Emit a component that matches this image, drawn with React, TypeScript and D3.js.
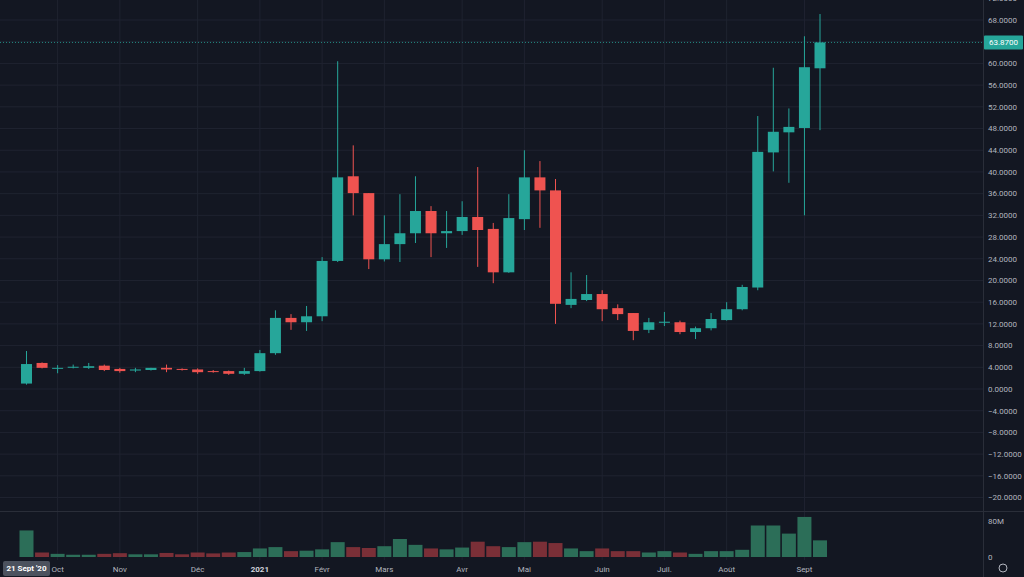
import React from "react";
import * as d3 from "d3";

const opens = [1.0,4.8,3.8,4.0,3.9,4.3,3.7,3.4,3.5,3.9,3.7,3.6,3.3,3.3,2.8,3.3,6.6,13.1,12.3,13.4,23.6,39.2,36.1,23.9,26.7,28.7,32.8,28.7,29.1,31.7,29.5,21.5,31.3,39.0,36.6,15.5,16.4,17.5,14.9,14.0,10.9,12.2,12.3,10.5,11.2,12.7,14.7,18.7,43.6,47.3,48.1,59.1];
const highs = [7.0,4.9,4.4,4.5,4.8,4.5,3.9,3.9,3.9,4.5,3.8,3.8,3.5,3.4,3.9,7.2,14.5,13.8,15.3,24.3,60.4,44.9,36.1,32.0,35.9,39.2,33.7,32.8,34.6,40.9,30.6,35.9,44.0,42.0,38.7,21.5,21.0,18.2,15.6,14.0,13.1,14.2,12.6,11.5,14.0,16.0,19.2,50.3,59.2,51.7,65.0,69.1];
const lows = [0.8,3.8,2.9,3.8,3.7,3.3,3.0,3.1,3.4,3.1,3.4,2.8,3.0,2.6,2.6,3.2,6.3,10.9,10.7,12.5,23.4,32.0,22.1,23.5,23.4,26.9,24.3,26.0,28.4,22.5,19.5,21.4,29.3,29.7,12.0,14.9,16.2,12.5,12.7,9.0,10.3,11.6,10.1,9.2,10.8,12.6,14.5,18.2,40.1,38.0,32.0,47.7];
const closes = [4.6,3.9,3.9,4.1,4.2,3.5,3.3,3.6,3.9,3.6,3.6,3.1,3.2,2.8,3.3,6.6,13.1,12.3,13.4,23.6,39.0,36.1,23.9,26.7,28.7,32.8,28.7,29.1,31.7,29.3,21.5,31.5,39.0,36.6,15.7,16.6,17.5,14.7,13.8,10.7,12.3,12.4,10.5,11.2,12.9,14.7,18.8,43.7,47.4,48.3,59.3,63.87];
const volumesM = [59,10,7,5,5,7,8.5,6,6,9,6,10,8,10,11,19,22,13,14,17,33,22,20,24,40,27,19,17,21,34,24,22,33,34,31,19,13,19,13,13,10,13,10,7,13,13,16,70,70,52,89,37];

const monthLabels = ["Oct","Nov","Déc","2021","Févr","Mars","Avr","Mai","Juin","Juil.","Août","Sept"];
const monthIndex = [2,6,11,15,19,23,28,32,37,41,45,50];
const priceTicks = [-20,-16,-12,-8,-4,0,4,8,12,16,20,24,28,32,36,40,44,48,52,56,60,64,68,72];
const volumeTicks = [0, 80];
const firstDateLabel = "21 Sept '20";
const lastPrice = 63.87;

const W = 1024, H = 577;
const BG = "#131722";
const UP = "#26a69a", DOWN = "#ef5350";
const VUP = "#2c6e58", VDOWN = "#7a2f37";
const TXT = "#b2b5be";
const GRID = "#1f2330";
const FONT = "Roboto, 'Liberation Sans', sans-serif";

export default function App() {
  const n = closes.length;
  const x = d3.scaleLinear().domain([0, 51]).range([26.5, 820]);
  const y = d3.scaleLinear().domain([0, 68]).range([389, 20]);
  const yv = d3.scaleLinear().domain([0, 80]).range([557, 521]);
  const bodyW = 11;
  const axisX = 983;
  const fmt = (v: number) => (v < 0 ? "\u2212" : "") + Math.abs(v).toFixed(4);
  const idx = d3.range(n);

  return (
    <svg width={W} height={H} style={{ position: "absolute", left: 0, top: 0, background: BG }} fontFamily={FONT}>
      <rect x={0} y={0} width={W} height={H} fill={BG} />
      <defs>
        <clipPath id="pane"><rect x={0} y={0} width={axisX} height={511} /></clipPath>
        <clipPath id="vpane"><rect x={0} y={512} width={axisX} height={48} /></clipPath>
      </defs>
      {priceTicks.map((t) => (
        <line key={"hg" + t} x1={0} x2={axisX} y1={y(t)} y2={y(t)} stroke={GRID} strokeWidth={1} />
      ))}
      {monthIndex.map((mi) => (
        <line key={"vg" + mi} x1={x(mi)} x2={x(mi)} y1={0} y2={560} stroke={GRID} strokeWidth={1} />
      ))}
      <line x1={0} x2={W} y1={511.5} y2={511.5} stroke="#2a2e39" strokeWidth={1} />
      <line x1={axisX + 0.5} x2={axisX + 0.5} y1={0} y2={H} stroke="#2a2e39" strokeWidth={1} />
      <line x1={0} x2={axisX} y1={y(lastPrice)} y2={y(lastPrice)} stroke={UP} strokeWidth={1} strokeDasharray="1 2" opacity={0.8} />
      <g clipPath="url(#pane)">
        {idx.map((i) => {
          const up = closes[i] >= opens[i];
          const c = up ? UP : DOWN;
          const top = y(Math.max(opens[i], closes[i]));
          const bot = y(Math.min(opens[i], closes[i]));
          return (
            <g key={"c" + i}>
              <line x1={x(i)} x2={x(i)} y1={y(highs[i])} y2={y(lows[i])} stroke={c} strokeWidth={1} />
              <rect x={x(i) - bodyW / 2} y={top} width={bodyW} height={Math.max(1, bot - top)} fill={c} />
            </g>
          );
        })}
      </g>
      <g clipPath="url(#vpane)">
        {idx.map((i) => {
          const up = closes[i] >= opens[i];
          return (
            <rect key={"v" + i} x={x(i) - 7} y={yv(volumesM[i])} width={14} height={yv(0) - yv(volumesM[i])}
              fill={up ? VUP : VDOWN} />
          );
        })}
      </g>
      {priceTicks.map((t) => (
        <text key={"pt" + t} x={988} y={y(t)} dy="0.35em" fontSize={8} fill={TXT}>{fmt(t)}</text>
      ))}
      <rect x={984} y={y(lastPrice) - 7} width={39} height={14} fill={UP} rx={1} />
      <text x={1003.5} y={y(lastPrice)} dy="0.35em" fontSize={8} fill="#ffffff" textAnchor="middle">{lastPrice.toFixed(4)}</text>
      {volumeTicks.map((t) => (
        <text key={"vt" + t} x={988} y={yv(t)} dy="0.35em" fontSize={8} fill={TXT}>{t === 0 ? "0" : t + "M"}</text>
      ))}
      {monthLabels.map((m, k) => (
        <text key={"m" + m} x={x(monthIndex[k])} y={569} dy="0.35em" fontSize={8} fill={m === "2021" ? "#d1d4dc" : TXT}
          fontWeight={m === "2021" ? "bold" : "normal"} textAnchor="middle">{m}</text>
      ))}
      <rect x={3} y={561} width={47} height={15} fill="#4c525e" rx={2} />
      <text x={26.5} y={568.5} dy="0.35em" fontSize={8} fontWeight="bold" fill="#ffffff" textAnchor="middle">{firstDateLabel}</text>
      <circle cx={1003} cy={568} r={4} fill="none" stroke={TXT} strokeWidth={1} />
    </svg>
  );
}
